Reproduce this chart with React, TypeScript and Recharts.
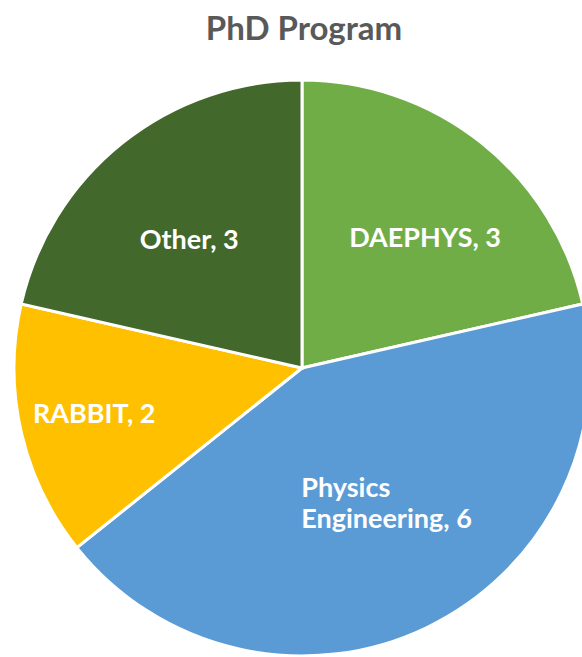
import React from 'react';
import { PieChart, Pie, Cell } from 'recharts';

// PhD programme headcount
const PROGRAMS = ['DAEPHYS', 'Physics Engineering', 'RABBIT', 'Other'];
const COUNTS = [3, 6, 2, 3];
const COLORS = ['#70AD47', '#5B9BD5', '#FFC000', '#43682B'];

// label placement per slice: fraction of radius, angle nudge (deg), anchor
const LABEL_LAYOUT = [
  { r: 0.62, da: -5, anchor: 'middle' },
  { r: 0.55, da: 9, anchor: 'start' },
  { r: 0.74, da: 0, anchor: 'middle' },
  { r: 0.59, da: 3, anchor: 'middle' },
];

const data = PROGRAMS.map((name, i) => ({ name, value: COUNTS[i] }));

const RAD = Math.PI / 180;
const FONT = 'Lato, "Open Sans", sans-serif';

const renderLabel = (props: any) => {
  const { cx, cy, midAngle, outerRadius, index, name, value } = props;
  const lay = LABEL_LAYOUT[index];
  const a = (midAngle + lay.da) * RAD;
  const x = cx + outerRadius * lay.r * Math.cos(a);
  const y = cy - outerRadius * lay.r * Math.sin(a);
  const common = {
    fill: '#fff',
    fontFamily: FONT,
    fontWeight: 700,
    fontSize: 27,
  };
  if (name === 'Physics Engineering') {
    const [first, second] = name.split(' ');
    const left = x - 91;
    return (
      <text x={left} y={y} textAnchor="start" {...common}>
        <tspan x={left} dy={-1}>{first}</tspan>
        <tspan x={left} dy={31}>{`${second}, ${value}`}</tspan>
      </text>
    );
  }
  return (
    <text x={x} y={y} dy={8} textAnchor={lay.anchor as any} {...common}>
      {`${name}, ${value}`}
    </text>
  );
};

export default function App() {
  return (
    <div
      style={{
        position: 'absolute',
        top: 0,
        left: 0,
        width: 582,
        height: 657,
        overflow: 'hidden',
        background: '#fff',
      }}
    >
      <div
        style={{
          position: 'absolute',
          top: 7,
          left: 0,
          width: 608,
          textAlign: 'center',
          fontFamily: FONT,
          fontWeight: 700,
          fontSize: 33,
          color: '#595959',
        }}
      >
        PhD Program
      </div>
      <PieChart
        width={620}
        height={660}
        margin={{ top: 0, right: 0, bottom: 0, left: 0 }}
      >
        <Pie
          data={data}
          dataKey="value"
          nameKey="name"
          cx={302}
          cy={368}
          outerRadius={288}
          startAngle={90}
          endAngle={-270}
          stroke="#fff"
          strokeWidth={3}
          label={renderLabel}
          labelLine={false}
          isAnimationActive={false}
        >
          {data.map((d, i) => (
            <Cell key={d.name} fill={COLORS[i]} />
          ))}
        </Pie>
      </PieChart>
    </div>
  );
}
